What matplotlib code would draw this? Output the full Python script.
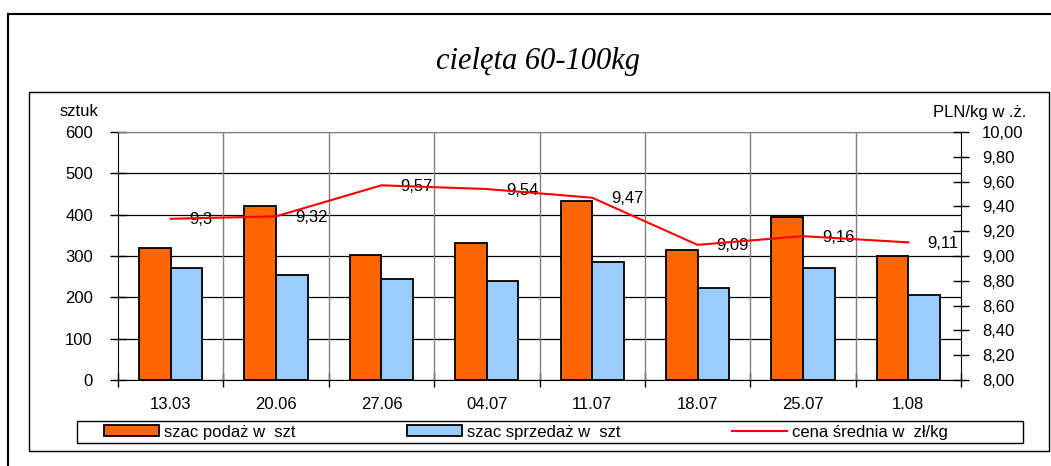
import matplotlib
matplotlib.use("Agg")
import matplotlib.pyplot as plt
import numpy as np
from matplotlib.lines import Line2D
from matplotlib.patches import Rectangle

plt.rcParams['font.family'] = ['Liberation Sans', 'DejaVu Sans']

# --- data ---
dates = ["13.03", "20.06", "27.06", "04.07", "11.07", "18.07", "25.07", "1.08"]
podaz = [320, 420, 303, 331, 433, 314, 395, 301]
sprzedaz = [270, 253, 245, 239, 286, 222, 270, 206]
cena = [9.3, 9.32, 9.57, 9.54, 9.47, 9.09, 9.16, 9.11]
cena_labels = ["9,3", "9,32", "9,57", "9,54", "9,47", "9,09", "9,16", "9,11"]

W, H = 1051, 466
FS = 12
fig = plt.figure(figsize=(W / 100, H / 100), dpi=100)

# frames (pixel coords -> figure fraction)
def fx(px):
    return px / W

def fy(py):
    return 1 - py / H

fig.add_artist(Line2D([fx(8), fx(8)], [fy(14), fy(466)], color="black", lw=1.5))
fig.add_artist(Line2D([fx(8), fx(1051)], [fy(14), fy(14)], color="black", lw=1.5))
fig.add_artist(Rectangle((fx(29), fy(451)), fx(1049) - fx(29), fy(92) - fy(451),
                         fill=False, edgecolor="black", lw=1.0))

fig.text(fx(538), fy(61), "cielęta 60-100kg", ha="center", va="center",
         fontsize=22, style="italic", family=["Liberation Serif", "DejaVu Serif"])

ax = fig.add_axes([fx(118), fy(380), fx(961) - fx(118), fy(132) - fy(380)])
x = np.arange(len(dates))
w = 0.3
ax.bar(x - w / 2, podaz, w, color="#FF6600", edgecolor="black", lw=1.3, zorder=3)
ax.bar(x + w / 2, sprzedaz, w, color="#99CCFF", edgecolor="black", lw=1.3, zorder=3)

ax.set_xlim(-0.5, len(dates) - 0.5)
ax.set_ylim(0, 600)
ax.set_yticks(range(0, 601, 100))
ax.yaxis.grid(True, color="black", lw=0.9, zorder=0)
ax.set_xticks(np.arange(len(dates) + 1) - 0.5)
ax.set_xticklabels([])
ax.set_xticks(x, minor=True)
ax.set_xticklabels(dates, minor=True, fontsize=FS)
ax.tick_params(axis="x", which="minor", length=0, pad=12)
ax.tick_params(axis="x", which="major", direction="inout", length=10, width=1)
for b in np.arange(1, len(dates)) - 0.5:
    ax.axvline(b, color="#808080", lw=1, zorder=1)
ax.tick_params(axis="y", direction="inout", length=12, width=1, labelsize=FS, pad=12)
ax.spines["top"].set_color("#808080")
ax.spines["right"].set_visible(False)
ax.set_axisbelow(True)

ax2 = ax.twinx()
ax2.plot(x, cena, color="red", lw=1.5, zorder=4)
ax2.set_ylim(8, 10)
ax2.set_yticks(np.arange(8, 10.01, 0.2))
ax2.set_yticklabels([f"{v:.2f}".replace(".", ",") for v in np.arange(8, 10.01, 0.2)])
ax2.tick_params(axis="y", direction="inout", length=12, width=1, labelsize=FS, pad=9)
for s in ["top", "left", "bottom"]:
    ax2.spines[s].set_visible(False)
for xi, yi, lab in zip(x, cena, cena_labels):
    ax2.annotate(lab, (xi, yi), xytext=(19, -1), textcoords="offset pixels",
                 ha="left", va="center", fontsize=FS)

fig.text(fx(60), fy(112), "sztuk", ha="left", va="center", fontsize=FS)
fig.text(fx(1026), fy(112), "PLN/kg w .ż.", ha="right", va="center", fontsize=FS)

# legend: frame drawn separately, entries laid out in one row
fig.add_artist(Rectangle((fx(77), fy(443)), fx(1023) - fx(77), fy(421) - fy(443),
                         fill=False, edgecolor="black", lw=1.0))
handles = [Rectangle((0, 0), 1, 1, facecolor="#FF6600", edgecolor="black", lw=1.3),
           Rectangle((0, 0), 1, 1, facecolor="#99CCFF", edgecolor="black", lw=1.3),
           Line2D([], [], color="red", lw=1.5)]
labels = ["szac podaż w  szt", "szac sprzedaż w  szt", "cena średnia w  zł/kg"]
fig.legend(handles, labels, loc="center left", ncol=3, frameon=False,
           bbox_to_anchor=(fx(104), fy(432)), fontsize=FS, handlelength=3.3,
           handleheight=0.6, handletextpad=0.3, columnspacing=6.7,
           borderaxespad=0, borderpad=0)

fig.savefig("out.png", dpi=100)
